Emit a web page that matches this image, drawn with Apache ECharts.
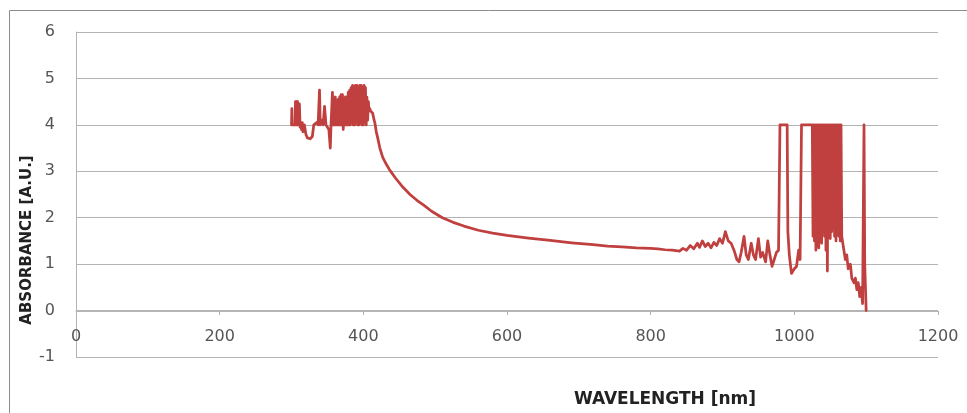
<!DOCTYPE html>
<html>
<head>
<meta charset="utf-8">
<script src="https://cdn.jsdelivr.net/npm/echarts@6/dist/echarts.min.js"></script>
<style>
html,body{margin:0;padding:0;background:#fff;}
#chart{width:967px;height:413px;}
</style>
</head>
<body>
<div id="chart"></div>
<script>
// Wavelength (nm) and absorbance (A.U.)
const wavelength = [
  300,300.5,301,305,305.5,306,306.5,307,307.5,308,
  308.5,309,309.5,310,311,312,313,314,315,316,
  318,320,322,326,329,331,335,337,339,340,
  342,344,346,348,352,354,355,357,358,359,
  360,361,362,363,364,365,366,367,368,369,
  370,371,372,373,374,375,376,377,378,379,
  380,381,382,383,384,385,386,387,388,389,
  390,391,392,393,394,395,396,397,398,399,
  400,401,402,403,404,405,406,407,408,409,
  410,413,415,416,418,420,423,427,432,437,
  445,455,465,475,485,495,510,525,540,560,
  580,600,630,660,690,720,740,760,780,800,
  810,820,830,840,845,850,855,860,865,868,
  872,876,880,884,888,892,896,900,904,908,
  912,916,920,923,926,930,933,936,940,943,
  946,950,953,956,960,963,966,969,972,975,
  978,980,990,991,993,996,1000,1003,1006,1008,
  1010,1025,1026,1027,1028,1029,1030,1031,1032,1033,
  1034,1035,1036,1037,1038,1039,1040,1041,1042,1043,
  1044,1045,1046,1047,1048,1049,1050,1051,1052,1053,
  1054,1055,1056,1057,1058,1059,1060,1061,1062,1063,
  1064,1065,1066,1067,1069,1071,1073,1075,1078,1080,
  1083,1085,1087,1089,1091,1093,1095,1097,1098,1100
];
const absorbance = [
  4.0,4.35,4.0,4.0,4.5,4.0,4.5,4.05,4.5,4.0,
  4.5,4.1,4.45,4.0,4.45,3.95,4.0,3.9,4.05,3.85,
  4.0,3.8,3.72,3.7,3.75,4.0,4.05,4.0,4.75,4.0,
  4.1,4.0,4.4,4.0,3.9,3.5,4.0,4.7,4.0,4.4,
  4.0,4.6,4.0,4.4,4.0,4.55,4.0,4.6,4.0,4.65,
  4.0,4.65,3.9,4.2,4.0,4.6,4.0,4.6,4.0,4.7,
  4.0,4.75,4.0,4.8,4.05,4.85,4.0,4.8,4.0,4.85,
  4.1,4.85,4.0,4.8,4.0,4.85,4.05,4.85,4.0,4.8,
  4.0,4.85,4.1,4.8,4.0,4.6,4.1,4.5,4.3,4.35,
  4.3,4.25,4.1,4.05,3.85,3.72,3.5,3.3,3.15,3.02,
  2.85,2.66,2.5,2.37,2.26,2.14,2.0,1.9,1.82,1.73,
  1.67,1.62,1.56,1.51,1.46,1.42,1.39,1.37,1.35,1.34,
  1.33,1.31,1.3,1.28,1.34,1.3,1.4,1.33,1.45,1.36,
  1.5,1.38,1.45,1.35,1.47,1.4,1.55,1.45,1.7,1.5,
  1.45,1.3,1.1,1.05,1.25,1.6,1.2,1.1,1.45,1.2,
  1.1,1.55,1.15,1.25,1.05,1.5,1.2,0.95,1.1,1.25,
  1.3,4.0,4.0,1.7,1.2,0.8,0.9,0.95,1.3,1.1,
  4.0,4.0,1.6,4.0,1.5,4.0,1.3,4.0,1.4,4.0,
  1.35,4.0,1.5,4.0,1.45,4.0,1.7,4.0,1.6,4.0,
  1.3,4.0,0.85,4.0,1.6,4.0,1.55,4.0,1.7,4.0,
  1.8,4.0,1.6,4.0,1.5,4.0,1.65,4.0,1.6,4.0,
  1.5,4.0,1.6,1.5,1.3,1.1,1.2,0.9,1.0,0.7,
  0.6,0.7,0.45,0.6,0.3,0.5,0.15,4.0,1.0,0.0
];
const xTicks = [0, 200, 400, 600, 800, 1000, 1200];
const yTicks = [-1, 0, 1, 2, 3, 4, 5, 6];

const points = wavelength.map((w, i) => [w, absorbance[i]]);

const chart = echarts.init(document.getElementById('chart'), null, {renderer: 'canvas'});
const gridColor = '#b4b4b4';
const labelFont = 'DejaVu Sans';
chart.setOption({
  animation: false,
  backgroundColor: '#ffffff',
  grid: {left: 76, right: 29, top: 32, bottom: 56},
  xAxis: {
    type: 'value',
    min: xTicks[0], max: xTicks[xTicks.length - 1], interval: 200,
    offset: -46,
    axisLine: {show: true, onZero: false, lineStyle: {color: gridColor, width: 1}},
    axisTick: {show: true, length: 4, lineStyle: {color: gridColor}},
    axisLabel: {color: '#555', fontFamily: labelFont, fontSize: 16, margin: 18,
                formatter: v => String(v)},
    splitLine: {show: false}
  },
  yAxis: {
    type: 'value',
    min: yTicks[0], max: yTicks[yTicks.length - 1], interval: 1,
    axisLine: {show: true, lineStyle: {color: gridColor, width: 1}},
    axisTick: {show: false},
    axisLabel: {color: '#555', fontFamily: labelFont, fontSize: 16, margin: 21},
    splitLine: {show: true, lineStyle: {color: gridColor, width: 1}}
  },
  series: [{
    type: 'line',
    data: points,
    showSymbol: false,
    symbol: 'none',
    lineStyle: {color: '#C0403F', width: 2.75, join: 'round', cap: 'round'},
    itemStyle: {color: '#C0403F'}
  }],
  graphic: [
    {type: 'rect', left: 7, top: 8, shape: {width: 980, height: 430},
     style: {fill: 'none', stroke: '#8c8c8c', lineWidth: 1}, silent: true},
    {type: 'text', x: 27, y: 240, rotation: Math.PI / 2,
     style: {text: 'ABSORBANCE [A.U.]', fontFamily: labelFont, fontWeight: 'bold', fontSize: 15,
             fill: '#222', align: 'center', verticalAlign: 'middle'}},
    {type: 'text', x: 665, y: 400,
     style: {text: 'WAVELENGTH [nm]', fontFamily: labelFont, fontWeight: 'bold', fontSize: 17,
             fill: '#222', align: 'center', verticalAlign: 'middle'}}
  ]
});
</script>
</body>
</html>
